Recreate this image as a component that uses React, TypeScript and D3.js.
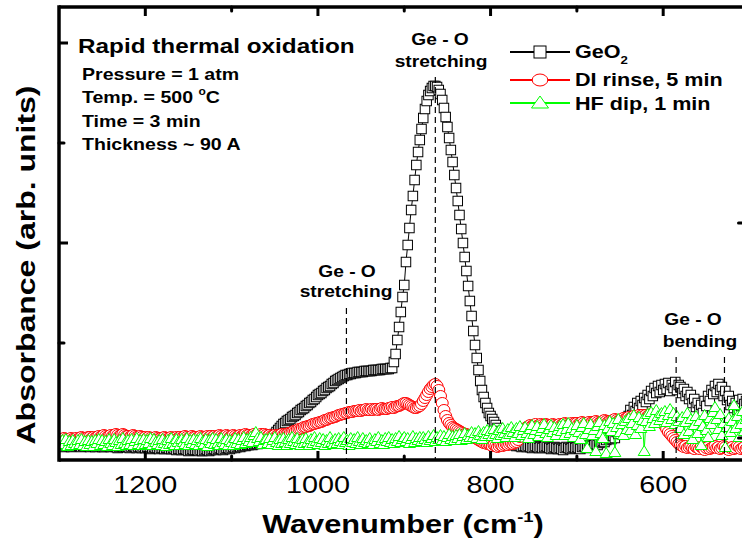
import React from "react";
import * as d3 from "d3";

// FTIR absorbance spectra sampled every 2 cm^-1 from 1300 down to 502 cm^-1.
// Values are in milli-absorbance (arbitrary units).
const WN_START = 1300;
const WN_STEP = 2;
const N_POINTS = 400;
const wavenumbers = d3.range(N_POINTS).map((i) => WN_START - i * WN_STEP);

const geo2Values = [
  -2,-3,-2,-4,-3,-2,-3,-4,-3,-2,
  -3,-2,-3,-4,-3,-3,-2,-3,-4,-3,
  -3,-4,-3,-2,-3,-4,-4,-3,-2,-3,
  -4,-3,-3,-4,-5,-4,-3,-4,-3,-4,
  -4,-5,-4,-3,-4,-5,-4,-4,-5,-4,
  -5,-4,-5,-6,-5,-4,-5,-5,-6,-5,
  -5,-6,-5,-5,-6,-6,-5,-6,-7,-6,
  -6,-7,-6,-6,-7,-8,-7,-6,-7,-7,
  -7,-8,-7,-8,-7,-6,-7,-8,-7,-6,
  -6,-7,-6,-5,-6,-7,-6,-5,-5,-6,
  -5,-4,-5,-4,-3,-4,-3,-2,-3,-2,
  -2,-1,-2,-1,0,-1,0,1,0,1,
  2,3,5,6,8,9,11,13,15,17,
  19,20,22,23,24,26,27,28,30,31,
  33,34,35,37,38,40,41,43,44,46,
  48,49,50,52,53,55,56,57,59,60,
  62,63,64,65,66,67,68,68,69,69,
  70,70,70,71,71,71,71,72,72,72,
  72,72,73,73,73,73,73,74,74,74,
  74,74,75,75,81,89,103,116,131,146,
  158,181,198,215,233,247,263,278,291,303,
  314,325,334,342,348,352,355,357,357,356,
  353,349,343,335,326,316,305,293,281,268,
  255,242,228,214,200,186,172,157,142,127,
  112,98,85,73,62,53,46,40,35,30,
  27,24,21,18,15,12,9,6,4,2,
  1,0,-1,-2,-2,-3,-2,-3,-4,-3,
  -3,-4,-3,-4,-5,-4,-3,-4,-5,-4,
  -5,-4,-3,-4,-5,-6,-5,-4,-5,-6,
  -5,-6,-7,-5,-4,-5,-6,-5,-4,-5,
  -4,-5,-6,-4,-3,-4,-5,-3,-2,-3,
  -2,-1,-2,0,1,2,1,3,5,4,
  4,7,5,11,9,15,13,20,18,25,
  27,33,28,36,32,40,35,42,38,45,
  41,48,44,52,47,55,50,57,51,58,
  53,59,54,60,52,58,55,61,53,58,
  56,50,54,47,51,44,48,40,44,36,
  40,33,38,30,42,37,47,42,53,49,
  57,51,59,53,56,47,52,43,47,38,
  42,35,40,33,43,37,44,39,42,38,
];

const diRinseValues = [
  4,3,4,5,4,3,4,5,4,4,
  5,4,5,6,5,4,5,6,6,5,
  6,5,6,7,6,7,8,7,6,7,
  8,7,8,9,8,7,8,9,8,7,
  7,6,7,8,7,6,6,7,6,5,
  6,5,6,5,4,5,6,5,4,5,
  5,6,5,4,5,6,5,5,6,5,
  6,5,6,7,6,5,6,7,6,6,
  5,6,7,6,5,6,7,6,7,6,
  7,6,7,8,7,6,7,8,7,6,
  7,8,7,6,7,8,7,8,9,8,
  8,7,8,9,8,7,8,9,8,9,
  8,7,8,7,7,8,7,8,8,9,
  8,9,9,10,10,11,12,12,13,14,
  14,15,16,16,17,17,18,19,19,20,
  20,21,21,22,23,23,24,25,25,26,
  26,27,28,28,29,29,30,30,31,31,
  31,32,32,32,33,32,33,33,34,33,
  33,34,33,34,34,33,34,35,34,34,
  34,35,35,36,35,36,37,37,38,39,
  40,40,39,38,37,36,35,35,36,37,
  39,42,45,48,51,54,56,58,59,57,
  53,47,40,33,27,23,20,18,16,15,
  14,13,12,11,10,9,9,8,7,7,
  6,5,4,3,2,1,0,0,-1,-1,
  -2,-3,-2,-3,-4,-3,-2,-3,-2,-1,
  -2,-1,0,-1,0,1,3,6,10,14,
  14,16,17,18,17,18,19,17,18,19,
  18,17,19,18,17,18,19,18,17,18,
  19,18,19,20,19,18,19,20,19,20,
  20,19,20,21,20,19,20,21,20,21,
  21,22,21,20,21,22,23,22,21,22,
  22,23,24,23,22,23,24,25,24,25,
  26,25,26,27,26,27,28,27,28,27,
  28,27,28,29,28,27,28,26,25,23,
  20,17,14,11,9,7,5,3,1,-1,
  -2,-3,-4,-3,-5,-4,-3,-5,-6,-4,
  -5,-6,-4,-5,-7,-5,-4,-6,-5,-4,
  -3,-5,-4,-6,-5,-3,-4,-6,-7,-5,
  -4,-6,-5,-3,-4,-6,-5,-4,-6,-5,
];

const hfDipValues = [
  2,-2,3,-1,4,-3,2,-2,3,0,
  -2,3,-1,4,-2,2,-3,3,-1,2,
  -3,3,0,4,-2,3,-1,2,-3,4,
  0,-2,4,1,-3,3,-1,5,0,-2,
  3,-1,4,-2,2,5,-1,3,-2,4,
  -1,3,0,5,-2,4,1,-1,3,-2,
  4,0,-3,3,-1,5,0,-2,4,1,
  -2,4,1,-1,5,-2,3,0,4,-1,
  3,-2,5,1,-1,4,-3,3,0,5,
  -1,4,0,-2,5,1,-1,4,-2,3,
  1,-2,5,0,4,-1,3,6,0,4,
  2,6,1,8,11,5,2,6,-1,3,
  4,0,5,-1,3,6,1,-2,4,0,
  5,1,-2,4,0,6,2,-1,5,1,
  -2,4,0,5,1,-2,4,0,6,2,
  -1,5,1,4,-2,3,0,6,1,-1,
  4,0,5,2,-1,6,1,3,-2,5,
  1,4,0,6,2,-1,5,1,3,0,
  5,1,-1,4,2,6,0,3,-1,5,
  2,6,1,4,0,5,2,7,1,4,
  6,2,5,0,4,7,1,5,3,6,
  2,6,4,1,7,3,5,8,2,6,
  4,8,3,7,2,6,9,4,7,3,
  8,5,9,3,7,10,4,8,6,11,
  6,10,5,12,8,4,11,7,13,9,
  12,7,14,9,5,13,8,15,10,6,
  14,9,16,11,6,15,10,17,8,13,
  16,10,5,14,18,9,13,17,7,12,
  15,19,10,6,14,18,11,16,8,13,
  17,12,19,8,14,20,10,15,6,13,
  18,11,4,16,20,9,-5,14,19,8,
  13,-8,17,21,10,5,18,-10,15,22,
  12,20,-9,16,24,11,19,8,22,14,
  25,13,20,28,9,18,26,15,23,-8,
  22,29,17,31,25,20,33,27,23,30,
  26,32,21,28,34,24,30,19,27,22,
  15,26,9,21,30,12,24,4,18,27,
  10,22,-2,17,28,13,6,25,19,31,
  36,24,14,29,8,20,-4,16,25,11,
  22,38,15,27,6,19,32,12,24,17,
];

const seriesNames = ["GeO", "DI rinse, 5 min", "HF dip, 1 min"];
const seriesColors = ["#000000", "#ff0000", "#00ff00"];
const seriesShapes = ["square", "circle", "triangle"];

// Band assignments: wavenumber and top of the dashed guide (milli-absorbance)
const bandWavenumbers = [967, 864, 585, 529];
const bandTops = [135, 366, 86, 86];

const xMajorTicks = [1200, 1000, 800, 600];
const xMinorTicks = [1100, 900, 700];
const yMajorTicks = [200, 400];
const yMinorTicks = [100, 300];
const rightTicks = [0, 1];

const W = 742;
const H = 547;
const FONT = "'Liberation Sans', Arial, Helvetica, sans-serif";

const x = d3.scaleLinear().domain([1300, 500]).range([59, 749.5]);
const y = d3.scaleLinear().domain([-17, 436]).range([460, 7]);
const yRight = d3.scaleLinear().domain([0, 1]).range([438, 223]);

const plotLeft = x(1300);
const plotRight = x(500);
const plotTop = y(436);
const plotBottom = y(-17);

function Marker({ shape, cx, cy, color, w, h }) {
  if (shape === "square") {
    return (
      <rect x={cx - w / 2} y={cy - h / 2} width={w} height={h}
        fill="#fff" stroke={color} strokeWidth={1} />
    );
  }
  if (shape === "circle") {
    return <ellipse cx={cx} cy={cy} rx={w / 2} ry={h / 2} fill="#fff" stroke={color} strokeWidth={1} />;
  }
  return (
    <path d={`M${cx},${cy - h * 0.55}L${cx + w / 2},${cy + h * 0.45}L${cx - w / 2},${cy + h * 0.45}Z`}
      fill="#fff" stroke={color} strokeWidth={1} />
  );
}

function SText({ x: tx, y: ty, s = 1.2, size, weight = "bold", anchor = "start", rotate = 0, children }) {
  return (
    <text
      transform={`translate(${tx},${ty})${rotate ? ` rotate(${rotate})` : ""} scale(${s},1)`}
      fontSize={size} fontWeight={weight} textAnchor={anchor} fontFamily={FONT} fill="#000">
      {children}
    </text>
  );
}

export default function App() {
  const allSeries = [geo2Values, diRinseValues, hfDipValues];
  const line = d3.line().x((d) => x(d[0])).y((d) => y(d[1]));
  const markerW = [9.5, 12, 12];
  const markerH = [9.5, 11, 10];

  return (
    <svg width={W} height={H} style={{ position: "absolute", left: 0, top: 0, background: "#fff" }}>
      <defs>
        <clipPath id="plotClip">
          <rect x={plotLeft} y={plotTop} width={plotRight - plotLeft} height={plotBottom - plotTop} />
        </clipPath>
      </defs>
      <rect width={W} height={H} fill="#fff" />

      <g clipPath="url(#plotClip)">
        {allSeries.map((vals, si) => {
          const pts = wavenumbers.map((wn, i) => [wn, vals[i]]);
          return (
            <g key={si}>
              <path d={line(pts)} fill="none" stroke={seriesColors[si]} strokeWidth={1} />
              {pts.map((p, i) => (
                <Marker key={i} shape={seriesShapes[si]} cx={x(p[0])} cy={y(p[1])}
                  color={seriesColors[si]} w={markerW[si]} h={markerH[si]} />
              ))}
            </g>
          );
        })}
      </g>

      {/* band guides */}
      {bandWavenumbers.map((wn, i) => (
        <line key={i} x1={x(wn)} x2={x(wn)} y1={y(bandTops[i])} y2={plotBottom}
          stroke="#000" strokeWidth={1.2} strokeDasharray="6,4" />
      ))}

      {/* frame */}
      <line x1={plotLeft} x2={plotRight} y1={plotBottom} y2={plotBottom} stroke="#000" strokeWidth={3.5} />
      <line x1={plotLeft} x2={plotRight} y1={plotTop} y2={plotTop} stroke="#000" strokeWidth={3.5} />
      <line x1={plotLeft} x2={plotLeft} y1={plotTop - 1.75} y2={plotBottom + 1.75} stroke="#000" strokeWidth={3.5} />
      <line x1={plotRight} x2={plotRight} y1={plotTop} y2={plotBottom} stroke="#000" strokeWidth={3.5} />

      {/* x ticks, bottom and top */}
      {xMajorTicks.map((t) => (
        <g key={t}>
          <line x1={x(t)} x2={x(t)} y1={plotBottom} y2={plotBottom - 9} stroke="#000" strokeWidth={3} />
          <line x1={x(t)} x2={x(t)} y1={plotTop} y2={plotTop + 9} stroke="#000" strokeWidth={3} />
        </g>
      ))}
      {xMinorTicks.map((t) => (
        <g key={t}>
          <line x1={x(t)} x2={x(t)} y1={plotBottom} y2={plotBottom - 4} stroke="#000" strokeWidth={3} strokeLinecap="round" />
          <line x1={x(t)} x2={x(t)} y1={plotTop} y2={plotTop + 4} stroke="#000" strokeWidth={3} strokeLinecap="round" />
        </g>
      ))}
      {yMajorTicks.map((t) => (
        <line key={t} x1={plotLeft} x2={plotLeft + 9} y1={y(t)} y2={y(t)} stroke="#000" strokeWidth={3} />
      ))}
      {yMinorTicks.map((t) => (
        <line key={t} x1={plotLeft} x2={plotLeft + 5} y1={y(t)} y2={y(t)} stroke="#000" strokeWidth={3} strokeLinecap="round" />
      ))}
      {rightTicks.map((t) => (
        <line key={t} x1={plotRight} x2={plotRight - 11} y1={yRight(t)} y2={yRight(t)} stroke="#000" strokeWidth={3} strokeLinecap="round" />
      ))}

      {/* x tick labels */}
      {xMajorTicks.map((t) => (
        <SText key={t} x={x(t)} y={493} size={24} weight="normal" anchor="middle" s={1.2}>{t}</SText>
      ))}

      {/* axis titles */}
      <SText x={403} y={533} size={25} anchor="middle" s={1.23}>
        Wavenumber (cm<tspan fontSize={15} dy={-11}>-1</tspan><tspan dy={11}>)</tspan>
      </SText>
      <SText x={35} y={265} size={25} anchor="middle" rotate={-90} s={1.28}>Absorbance (arb. units)</SText>

      {/* process conditions */}
      <SText x={78} y={53} size={20.5} s={1.186}>Rapid thermal oxidation</SText>
      <SText x={82} y={80} size={16.3}>Pressure = 1 atm</SText>
      <SText x={82} y={103} size={16.3}>
        Temp. = 500 <tspan fontSize={10} dy={-8}>o</tspan><tspan dy={8}>C</tspan>
      </SText>
      <SText x={82} y={127} size={16.3}>Time = 3 min</SText>
      <SText x={82} y={150} size={16.3}>Thickness ~ 90 A</SText>

      {/* band labels */}
      <SText x={440} y={45} size={16} anchor="middle">Ge - O</SText>
      <SText x={441} y={67} size={16} anchor="middle">stretching</SText>
      <SText x={347} y={277} size={16} anchor="middle">Ge - O</SText>
      <SText x={346} y={297} size={16} anchor="middle">stretching</SText>
      <SText x={693} y={325} size={16} anchor="middle">Ge - O</SText>
      <SText x={700} y={347} size={16} anchor="middle">bending</SText>

      {/* legend */}
      {seriesNames.map((name, i) => {
        const ly = [52, 80, 103][i];
        const by = [58, 86, 110][i];
        return (
          <g key={name}>
            <line x1={510} x2={570} y1={ly} y2={ly} stroke={seriesColors[i]} strokeWidth={2} />
            {seriesShapes[i] === "square" && (
              <rect x={534} y={ly - 6} width={12} height={12} fill="#fff" stroke="#000" strokeWidth={1} />
            )}
            {seriesShapes[i] === "circle" && (
              <ellipse cx={540} cy={ly} rx={7.8} ry={6} fill="#fff" stroke={seriesColors[i]} strokeWidth={1} />
            )}
            {seriesShapes[i] === "triangle" && (
              <path d={`M540,${ly - 7}L548.5,${ly + 5}L531.5,${ly + 5}Z`} fill="#fff" stroke={seriesColors[i]} strokeWidth={1} />
            )}
            <SText x={575} y={by} size={18} s={1.2}>
              {name}
              {i === 0 && <tspan fontSize={11} dy={6}>2</tspan>}
            </SText>
          </g>
        );
      })}
    </svg>
  );
}
